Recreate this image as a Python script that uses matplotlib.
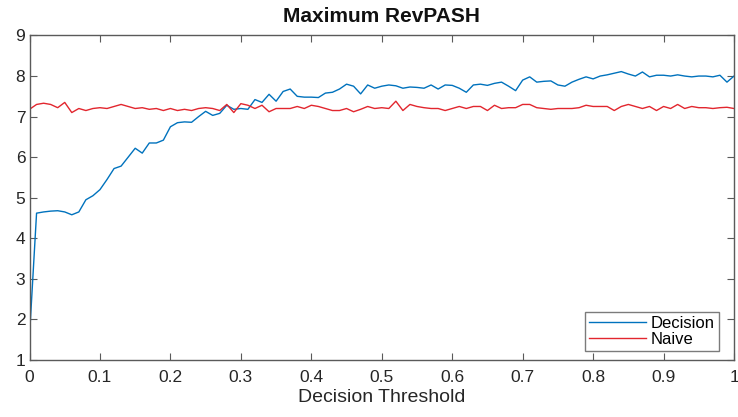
import numpy as np
import matplotlib
matplotlib.use("Agg")
import matplotlib.pyplot as plt

plt.rcParams['font.family'] = ['Liberation Sans', 'DejaVu Sans']

threshold = np.round(np.arange(0, 101) * 0.01, 2)

decision = [
    1.6, 4.62, 4.65, 4.67, 4.68, 4.65, 4.58, 4.65, 4.95, 5.05,
    5.2, 5.45, 5.72, 5.78, 6.0, 6.22, 6.1, 6.35, 6.35, 6.42,
    6.75, 6.85, 6.87, 6.86, 7.0, 7.13, 7.03, 7.08, 7.28, 7.18,
    7.2, 7.18, 7.42, 7.35, 7.55, 7.38, 7.62, 7.68, 7.5, 7.48,
    7.48, 7.47, 7.58, 7.6, 7.68, 7.8, 7.75, 7.56, 7.78, 7.7,
    7.75, 7.78, 7.76, 7.7, 7.73, 7.72, 7.7, 7.78, 7.68, 7.78,
    7.77, 7.7, 7.6, 7.78, 7.8, 7.77, 7.82, 7.85, 7.75, 7.64,
    7.9, 7.98, 7.85, 7.87, 7.88, 7.78, 7.75, 7.85, 7.92, 7.98,
    7.93, 8.0, 8.03, 8.07, 8.11, 8.05, 8.0, 8.1, 7.98, 8.02,
    8.02, 8.0, 8.03, 8.0, 7.98, 8.0, 8.0, 7.98, 8.02, 7.85,
    8.0,
]

naive = [
    7.18, 7.3, 7.33, 7.3, 7.22, 7.35, 7.1, 7.2, 7.15, 7.2,
    7.22, 7.2, 7.25, 7.3, 7.25, 7.2, 7.22, 7.18, 7.2, 7.15,
    7.2, 7.15, 7.18, 7.15, 7.2, 7.22, 7.2, 7.15, 7.3, 7.1,
    7.32, 7.28, 7.2, 7.28, 7.12, 7.2, 7.2, 7.2, 7.25, 7.2,
    7.28, 7.25, 7.2, 7.15, 7.15, 7.2, 7.12, 7.18, 7.25, 7.2,
    7.22, 7.2, 7.38, 7.15, 7.3, 7.25, 7.22, 7.2, 7.2, 7.15,
    7.2, 7.25, 7.2, 7.25, 7.25, 7.15, 7.28, 7.2, 7.22, 7.22,
    7.3, 7.3, 7.22, 7.2, 7.18, 7.2, 7.2, 7.2, 7.22, 7.28,
    7.25, 7.25, 7.25, 7.15, 7.25, 7.3, 7.25, 7.2, 7.25, 7.15,
    7.25, 7.2, 7.3, 7.2, 7.25, 7.22, 7.22, 7.2, 7.22, 7.23,
    7.2,
]

x_ticks = [0, 0.1, 0.2, 0.3, 0.4, 0.5, 0.6, 0.7, 0.8, 0.9, 1]
x_tick_labels = ['0', '0.1', '0.2', '0.3', '0.4', '0.5', '0.6', '0.7', '0.8', '0.9', '1']
y_ticks = [1, 2, 3, 4, 5, 6, 7, 8, 9]

fig = plt.figure(figsize=(7.38, 4.17), dpi=100)
ax = fig.add_axes([0.04, 0.1367, 0.9546, 0.7782])

ax.plot(threshold, decision, color='#0072BD', lw=1.0, label='Decision')
ax.plot(threshold, naive, color='#E2262E', lw=1.0, label='Naive')

ax.set_xlim(0, 1)
ax.set_ylim(1, 9)
ax.set_xticks(x_ticks)
ax.set_xticklabels(x_tick_labels)
ax.set_yticks(y_ticks)

axis_grey = '#5a5a5a'
for s in ax.spines.values():
    s.set_color(axis_grey)
    s.set_linewidth(1.0)
ax.tick_params(direction='in', length=5, width=0.8, color=axis_grey,
               top=True, right=True, labelsize=12.5, labelcolor='#262626')
ax.tick_params(axis='x', pad=7)
ax.tick_params(axis='y', pad=3)

ax.set_title('Maximum RevPASH', fontsize=15, fontweight='bold', color='#111111', pad=10)
ax.set_xlabel('Decision Threshold', fontsize=14, color='#262626', labelpad=3)

leg = ax.legend(loc='lower right', bbox_to_anchor=(0.979, 0.028), fontsize=12,
                frameon=True, fancybox=False, edgecolor=axis_grey, handlelength=3.4,
                borderpad=0.25, labelspacing=0.05, handletextpad=0.3, borderaxespad=0)
leg.get_frame().set_linewidth(1.0)

fig.savefig('out.png', dpi=100, facecolor='white')
